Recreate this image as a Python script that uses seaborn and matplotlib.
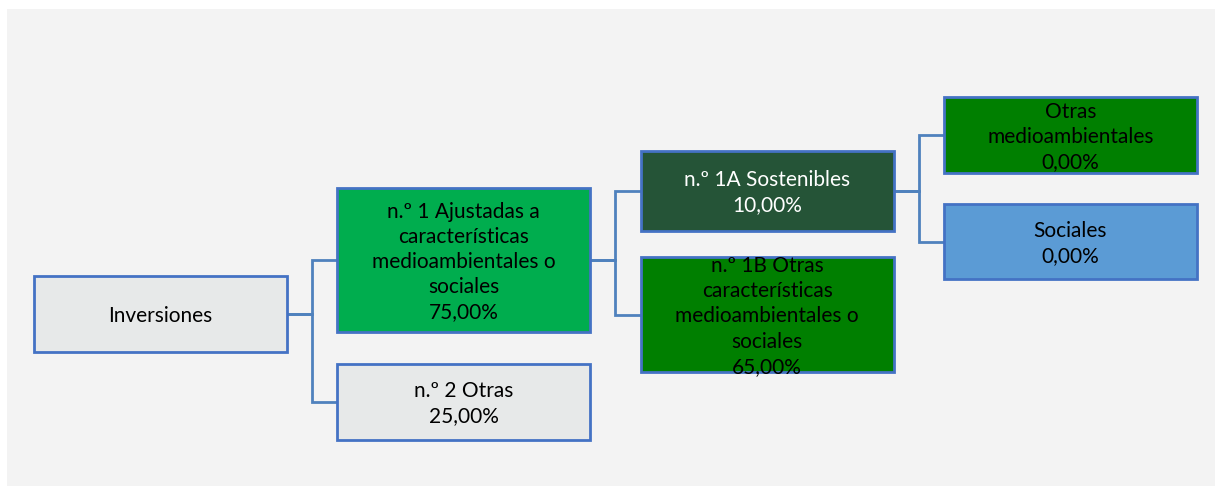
import matplotlib
matplotlib.use("Agg")
import matplotlib.pyplot as plt
from matplotlib.patches import Rectangle
import seaborn as sns

# --------------------------------------------------
# Tree data
# --------------------------------------------------

node_ids = ["inv", "n1", "n2", "n1a", "n1b", "otras", "soc"]

node_labels = [
    "Inversiones",
    "n.º 1 Ajustadas a\ncaracterísticas\nmedioambientales o\nsociales",
    "n.º 2 Otras",
    "n.º 1A Sostenibles",
    "n.º 1B Otras\ncaracterísticas\nmedioambientales o\nsociales",
    "Otras\nmedioambientales",
    "Sociales",
]

node_values = [None, "75,00%", "25,00%", "10,00%", "65,00%", "0,00%", "0,00%"]

node_parents = [None, "inv", "inv", "n1", "n1", "n1a", "n1a"]

# --------------------------------------------------
# Layout (pixel space) and styles
# --------------------------------------------------

level = {"inv": 0, "n1": 1, "n2": 1, "n1a": 2, "n1b": 2, "otras": 3, "soc": 3}
y_top = {"inv": 277, "n1": 189, "n2": 365, "n1a": 152, "n1b": 258, "otras": 98, "soc": 205}
y_bot = {"inv": 353, "n1": 333, "n2": 441, "n1a": 232, "n1b": 373, "otras": 174, "soc": 280}

fills = {
    "inv": "#E7E9E9",
    "n1": "#00AD4E",
    "n2": "#E7E9E9",
    "n1a": "#255437",
    "n1b": "#007F00",
    "otras": "#007F00",
    "soc": "#5B9BD5",
}
text_colors = {"n1a": "white"}

x0, step, box_w = 34, 303.3, 253
edge = "#4472C4"
line_col = "#4F81BD"

sns.set_theme(style="white")
plt.rcParams["font.family"] = ["Lato", "DejaVu Sans"]

fig = plt.figure(figsize=(12.22, 4.89), dpi=100)
ax = fig.add_axes([0, 0, 1, 1])
ax.set_xlim(0, 1222)
ax.set_ylim(489, 0)
ax.axis("off")

ax.add_patch(Rectangle((7, 10), 1208, 477, facecolor="#F3F3F3", edgecolor="none"))

pos = {}
for nid in node_ids:
    left = x0 + level[nid] * step
    pos[nid] = (left, y_top[nid], y_bot[nid])

# connectors
for nid, parent in zip(node_ids, node_parents):
    if parent is None:
        continue
    pl, pt, pb = pos[parent]
    cl, ct, cb = pos[nid]
    py = (pt + pb) / 2
    cy = (ct + cb) / 2
    xm = pl + box_w + (cl - pl - box_w) / 2
    ax.plot([pl + box_w, xm, xm, cl], [py, py, cy, cy],
            color=line_col, lw=2, solid_joinstyle="miter", zorder=1)

# boxes
for nid, label, value in zip(node_ids, node_labels, node_values):
    left, top, bot = pos[nid]
    ax.add_patch(Rectangle((left, top), box_w, bot - top,
                           facecolor=fills[nid], edgecolor=edge,
                           lw=2, zorder=2))
    text = label if value is None else f"{label}\n{value}"
    ax.text(left + box_w / 2, (top + bot) / 2 + 1, text,
            ha="center", va="center", fontsize=15, linespacing=1.32,
            color=text_colors.get(nid, "black"), zorder=3)

fig.savefig("out.png", dpi=100, facecolor="white")
